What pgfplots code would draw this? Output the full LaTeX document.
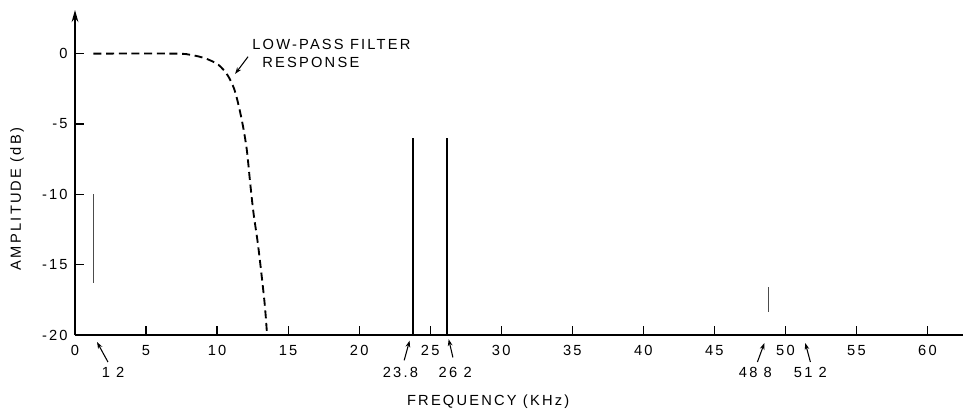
\documentclass[border=0pt]{standalone}
\usepackage{fontspec}
\setmainfont{Liberation Sans}[LetterSpace=15]
\usepackage{pgfplots}
\pgfplotsset{compat=1.18}
\usetikzlibrary{arrows.meta}
\begin{document}
\begin{tikzpicture}[every node/.append style={font=\fontsize{11}{13}\selectfont}]
\begin{axis}[
  scale only axis, width=666pt, height=243.75pt,
  xmin=0, xmax=62.5, ymin=-20, ymax=3.1,
  axis x line=bottom, axis y line=left,
  x axis line style={-, line width=1.3pt},
  y axis line style={-{Stealth[length=9pt,width=5pt]}, line width=1.6pt},
  xtick={0,5,10,15,20,25,30,35,40,45,50,55,60},
  xticklabels={0,5,10,15,20,25,30,35,40,45,50,55,60},
  ytick={-20,-15,-10,-5,0}, yticklabels={-20,-15,-10,-5,0},
  tick align=inside, major tick length=7pt,
  tick style={black, line width=0.9pt},
  tick label style={font=\fontsize{11}{13}\selectfont},
  xticklabel style={yshift=-4pt},
  yticklabel style={xshift=-2pt},
  clip=false]
\coordinate (O) at (rel axis cs:0,0);
% low-pass filter response
\addplot[black, line width=1.4pt, dash pattern=on 6pt off 3.5pt, smooth, tension=0.5]
  coordinates {(1.3,0) (7.0,0) (8.2,-0.1) (9.2,-0.35) (10.1,-0.8) (10.75,-1.55) (11.2,-2.5) (11.52,-3.7) (11.83,-5.19) (12.1,-6.9) (12.32,-9.1) (12.56,-11.3) (12.87,-13.5) (13.15,-15.9) (13.37,-18.0) (13.52,-20)};
% spectral lines
\addplot[black!70, line width=0.7pt] coordinates {(1.3,-10) (1.3,-16.3)};
\addplot[black, line width=1.3pt] coordinates {(23.8,-20) (23.8,-6)};
\addplot[black, line width=1.3pt] coordinates {(26.2,-20) (26.2,-6)};
\addplot[black!70, line width=0.6pt] coordinates {(48.8,-16.6) (48.8,-18.4)};
% annotations
\node[anchor=west, inner sep=0pt] at (axis cs:12.46,0.63) {LOW-PASS FILTER};
\node[anchor=west, inner sep=0pt] at (axis cs:13.17,-0.6) {RESPONSE};
\draw[-{Stealth[length=5pt,width=3.5pt]}, line width=0.8pt] (axis cs:12.18,-0.22) -- (axis cs:11.27,-1.44);
\node at (axis cs:2.68,-22.63) {1 2};
\draw[-{Stealth[length=5pt,width=3.5pt]}, line width=0.8pt] (axis cs:2.32,-21.92) -- (axis cs:1.55,-20.5);
\node at (axis cs:22.9,-22.63) {23.8};
\draw[-{Stealth[length=5pt,width=3.5pt]}, line width=0.8pt] (axis cs:23.17,-21.8) -- (axis cs:23.55,-20.4);
\node at (axis cs:26.76,-22.63) {26 2};
\draw[-{Stealth[length=5pt,width=3.5pt]}, line width=0.8pt] (axis cs:26.6,-21.6) -- (axis cs:26.3,-20.3);
\node at (axis cs:47.89,-22.63) {48 8};
\draw[-{Stealth[length=5pt,width=3.5pt]}, line width=0.8pt] (axis cs:48.03,-21.92) -- (axis cs:48.52,-20.57);
\node at (axis cs:51.76,-22.63) {51 2};
\draw[-{Stealth[length=5pt,width=3.5pt]}, line width=0.8pt] (axis cs:51.76,-21.92) -- (axis cs:51.4,-20.57);
\node at (axis cs:29.08,-24.77) {FREQUENCY (KHz)};
\node[rotate=90] at (axis cs:-4.08,-10.33) {AMPLITUDE (dB)};
\end{axis}
\pgfresetboundingbox
\path ([shift={(-56.25pt,-59.25pt)}]O) rectangle ([shift={(666.75pt,251.25pt)}]O);
\end{tikzpicture}
\end{document}
